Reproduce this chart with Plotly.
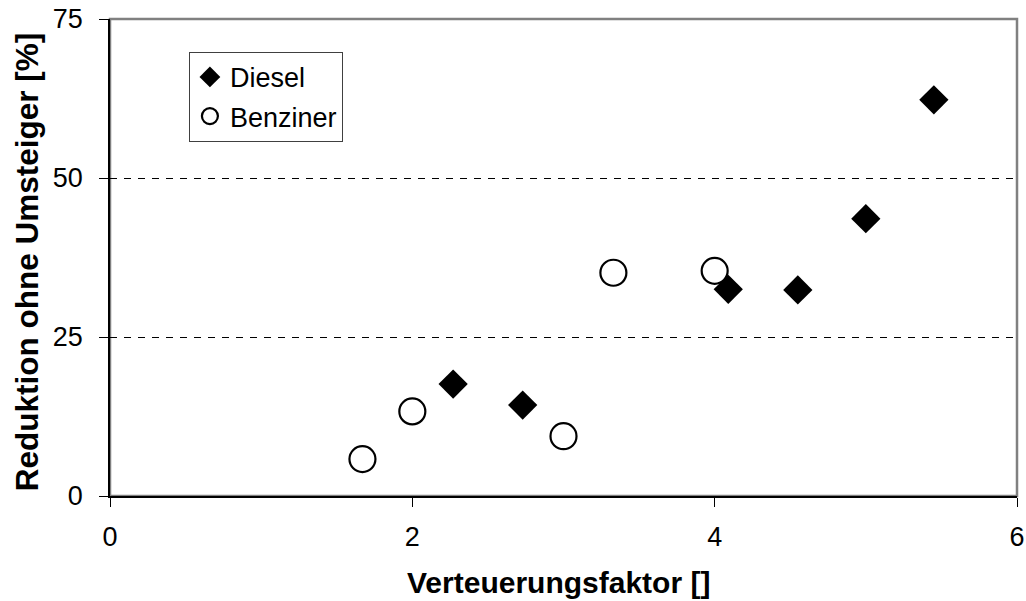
import plotly.graph_objects as go

# Data
diesel_x = [2.27, 2.73, 4.09, 4.55, 5.00, 5.45]
diesel_y = [17.6, 14.3, 32.5, 32.4, 43.6, 62.3]
benzin_x = [1.67, 2.00, 3.00, 3.33, 4.00]
benzin_y = [5.8, 13.3, 9.4, 35.1, 35.4]

x_ticks = [0, 2, 4, 6]
y_ticks = [0, 25, 50, 75]

x_title = "Verteuerungsfaktor []"
y_title = "Reduktion ohne Umsteiger [%]"

FONT = "Liberation Sans, Arial, sans-serif"

fig = go.Figure()
fig.add_trace(go.Scatter(
    x=diesel_x, y=diesel_y, mode="markers", name="Diesel", legendgroup="d",
    marker=dict(symbol="diamond", size=22.5, color="black", line=dict(width=0)),
))
fig.add_trace(go.Scatter(
    x=benzin_x, y=benzin_y, mode="markers", name="Benziner", legendgroup="b",
    marker=dict(symbol="circle", size=26, color="white", line=dict(width=2.2, color="black")),
))

# grey plot-area frame (top/right)
fig.add_shape(type="rect", xref="x domain", yref="y domain", x0=0, x1=1, y0=0, y1=1,
              line=dict(color="#808080", width=2.5), layer="below")

# axis titles
fig.add_annotation(text="<b>" + x_title + "</b>", xref="paper", yref="paper",
                   x=0.495, y=-0.142, xanchor="center", yanchor="top", showarrow=False,
                   font=dict(family=FONT, size=30, color="black"))
fig.add_annotation(text="<b>" + y_title + "</b>", xref="paper", yref="paper",
                   x=-0.0915, y=0.49, xanchor="center", yanchor="middle", textangle=-90,
                   showarrow=False, font=dict(family=FONT, size=31.5, color="black"))

fig.update_layout(
    width=1026, height=601,
    margin=dict(l=110, r=9, t=19, b=105),
    paper_bgcolor="white", plot_bgcolor="white",
    font=dict(family=FONT, size=27, color="black"),
    showlegend=True,
    legend=dict(
        x=0.087, y=0.931, xanchor="left", yanchor="top",
        bgcolor="white", bordercolor="#404040", borderwidth=1,
        font=dict(family=FONT, size=27, color="black"),
        tracegroupgap=1, itemwidth=30,
    ),
    xaxis=dict(
        range=[0, 6], tickvals=x_ticks, ticktext=[str(v) for v in x_ticks],
        showgrid=False, zeroline=False,
        showline=True, linecolor="black", linewidth=1.5,
        ticks="outside", ticklen=9, tickwidth=1, tickcolor="black",
        ticklabelstandoff=7,
        tickfont=dict(family=FONT, size=27, color="black"),
        automargin=False,
    ),
    yaxis=dict(
        range=[0, 75], tickvals=y_ticks, ticktext=[str(v) for v in y_ticks],
        showgrid=True, gridcolor="black", gridwidth=1, griddash="7px,7px",
        zeroline=False,
        showline=True, linecolor="black", linewidth=1.5,
        ticks="outside", ticklen=9, tickwidth=1, tickcolor="black",
        ticklabelstandoff=11,
        tickfont=dict(family=FONT, size=27, color="black"),
        automargin=False,
    ),
)

fig.write_html("out.html", config={"displayModeBar": False},
               post_script="document.body.style.margin='0';document.body.style.overflow='hidden';")
